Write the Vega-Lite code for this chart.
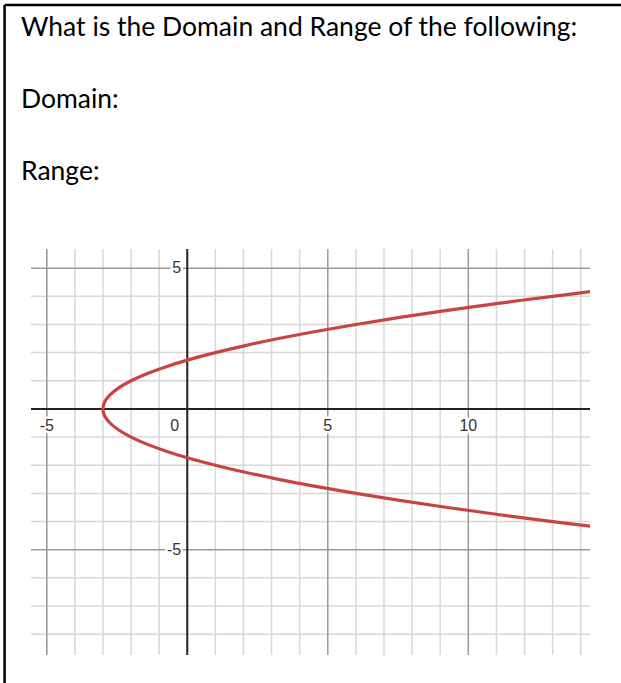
{
  "$schema": "https://vega.github.io/schema/vega-lite/v6.json",
  "autosize": {"type": "none"},
  "padding": {"left": 31, "top": 249, "right": 31, "bottom": 28},
  "width": 559,
  "height": 406,
  "background": "white",
  "config": {"view": {"stroke": null}},
  "title": {
    "text": ["What is the Domain and Range of the following:", "Domain:", "Range:"],
    "anchor": "start",
    "frame": "group",
    "orient": "top",
    "font": "Lato",
    "fontSize": 26.5,
    "fontWeight": "normal",
    "color": "black",
    "lineHeight": 72,
    "baseline": "bottom",
    "offset": -209,
    "dx": -10
  },
  "datasets": {
    "one": [{}],
    "curve": [
      {"y": -4.2, "x": 14.64}, {"y": -4, "x": 13}, {"y": -3.75, "x": 11.0625}, {"y": -3.5, "x": 9.25},
      {"y": -3.25, "x": 7.5625}, {"y": -3, "x": 6}, {"y": -2.75, "x": 4.5625}, {"y": -2.5, "x": 3.25},
      {"y": -2.25, "x": 2.0625}, {"y": -2, "x": 1}, {"y": -1.75, "x": 0.0625}, {"y": -1.5, "x": -0.75},
      {"y": -1.25, "x": -1.4375}, {"y": -1, "x": -2}, {"y": -0.75, "x": -2.4375}, {"y": -0.5, "x": -2.75},
      {"y": -0.25, "x": -2.9375}, {"y": 0, "x": -3}, {"y": 0.25, "x": -2.9375}, {"y": 0.5, "x": -2.75},
      {"y": 0.75, "x": -2.4375}, {"y": 1, "x": -2}, {"y": 1.25, "x": -1.4375}, {"y": 1.5, "x": -0.75},
      {"y": 1.75, "x": 0.0625}, {"y": 2, "x": 1}, {"y": 2.25, "x": 2.0625}, {"y": 2.5, "x": 3.25},
      {"y": 2.75, "x": 4.5625}, {"y": 3, "x": 6}, {"y": 3.25, "x": 7.5625}, {"y": 3.5, "x": 9.25},
      {"y": 3.75, "x": 11.0625}, {"y": 4, "x": 13}, {"y": 4.2, "x": 14.64}
    ],
    "xminor": [
      {"v": -5}, {"v": -4}, {"v": -3}, {"v": -2}, {"v": -1}, {"v": 1}, {"v": 2}, {"v": 3}, {"v": 4},
      {"v": 6}, {"v": 7}, {"v": 8}, {"v": 9}, {"v": 11}, {"v": 12}, {"v": 13}, {"v": 14}
    ],
    "yminor": [
      {"v": -8}, {"v": -7}, {"v": -6}, {"v": -4}, {"v": -3}, {"v": -2}, {"v": -1},
      {"v": 1}, {"v": 2}, {"v": 3}, {"v": 4}
    ],
    "xmajor": [{"v": -5}, {"v": 5}, {"v": 10}],
    "ymajor": [{"v": -5}, {"v": 5}],
    "xlabels": [{"v": -5, "label": "-5"}, {"v": 5, "label": "5"}, {"v": 10, "label": "10"}],
    "ylabels": [{"v": -5, "label": "-5"}, {"v": 5, "label": "5"}],
    "origin": [{"v": 0, "label": "0"}]
  },
  "layer": [
    {
      "data": {"name": "xminor"},
      "mark": {"type": "rule", "color": "#d8d8d8", "strokeWidth": 1.5},
      "encoding": {"x": {"field": "v", "type": "quantitative", "scale": {"domain": [-5.56, 14.33], "nice": false, "zero": false}, "axis": null}}
    },
    {
      "data": {"name": "yminor"},
      "mark": {"type": "rule", "color": "#d8d8d8", "strokeWidth": 1.5},
      "encoding": {"y": {"field": "v", "type": "quantitative", "scale": {"domain": [-8.74, 5.68], "nice": false, "zero": false}, "axis": null}}
    },
    {
      "data": {"name": "xmajor"},
      "mark": {"type": "rule", "color": "#999999", "strokeWidth": 1.5},
      "encoding": {"x": {"field": "v", "type": "quantitative"}}
    },
    {
      "data": {"name": "ymajor"},
      "mark": {"type": "rule", "color": "#999999", "strokeWidth": 1.5},
      "encoding": {"y": {"field": "v", "type": "quantitative"}}
    },
    {
      "data": {"name": "one"},
      "mark": {"type": "rule", "color": "#222222", "strokeWidth": 2},
      "encoding": {"x": {"datum": 0, "type": "quantitative"}}
    },
    {
      "data": {"name": "one"},
      "mark": {"type": "rule", "color": "#222222", "strokeWidth": 2},
      "encoding": {"y": {"datum": 0, "type": "quantitative"}}
    },
    {
      "data": {"name": "xlabels"},
      "mark": {"type": "text", "font": "Liberation Sans", "fontSize": 16, "baseline": "top", "align": "center", "dy": 9, "stroke": "white", "strokeWidth": 5, "fill": "white"},
      "encoding": {"x": {"field": "v", "type": "quantitative"}, "y": {"datum": 0, "type": "quantitative"}, "text": {"field": "label"}}
    },
    {
      "data": {"name": "xlabels"},
      "mark": {"type": "text", "font": "Liberation Sans", "fontSize": 16, "baseline": "top", "align": "center", "dy": 9, "color": "#333333"},
      "encoding": {"x": {"field": "v", "type": "quantitative"}, "y": {"datum": 0, "type": "quantitative"}, "text": {"field": "label"}}
    },
    {
      "data": {"name": "ylabels"},
      "mark": {"type": "text", "font": "Liberation Sans", "fontSize": 16, "baseline": "middle", "align": "right", "dx": -6, "stroke": "white", "strokeWidth": 5, "fill": "white"},
      "encoding": {"x": {"datum": 0, "type": "quantitative"}, "y": {"field": "v", "type": "quantitative"}, "text": {"field": "label"}}
    },
    {
      "data": {"name": "ylabels"},
      "mark": {"type": "text", "font": "Liberation Sans", "fontSize": 16, "baseline": "middle", "align": "right", "dx": -6, "color": "#333333"},
      "encoding": {"x": {"datum": 0, "type": "quantitative"}, "y": {"field": "v", "type": "quantitative"}, "text": {"field": "label"}}
    },
    {
      "data": {"name": "origin"},
      "mark": {"type": "text", "font": "Liberation Sans", "fontSize": 16, "baseline": "top", "align": "right", "dx": -8, "dy": 9, "color": "#333333"},
      "encoding": {"x": {"field": "v", "type": "quantitative"}, "y": {"field": "v", "type": "quantitative"}, "text": {"field": "label"}}
    },
    {
      "data": {"name": "curve"},
      "mark": {"type": "line", "color": "#c74440", "strokeWidth": 3.2, "interpolate": "catmull-rom", "clip": true},
      "encoding": {
        "x": {"field": "x", "type": "quantitative"},
        "y": {"field": "y", "type": "quantitative"},
        "order": {"field": "y", "type": "quantitative"}
      }
    },
    {
      "data": {"name": "one"},
      "mark": {"type": "rule", "color": "black", "strokeWidth": 2.5},
      "encoding": {
        "x": {"datum": -6.5, "type": "quantitative"},
        "y": {"datum": -12, "type": "quantitative"},
        "y2": {"datum": 14.35}
      }
    },
    {
      "data": {"name": "one"},
      "mark": {"type": "rule", "color": "black", "strokeWidth": 2.5},
      "encoding": {
        "x": {"datum": -6.5, "type": "quantitative"},
        "x2": {"datum": 20},
        "y": {"datum": 14.35, "type": "quantitative"}
      }
    }
  ]
}
